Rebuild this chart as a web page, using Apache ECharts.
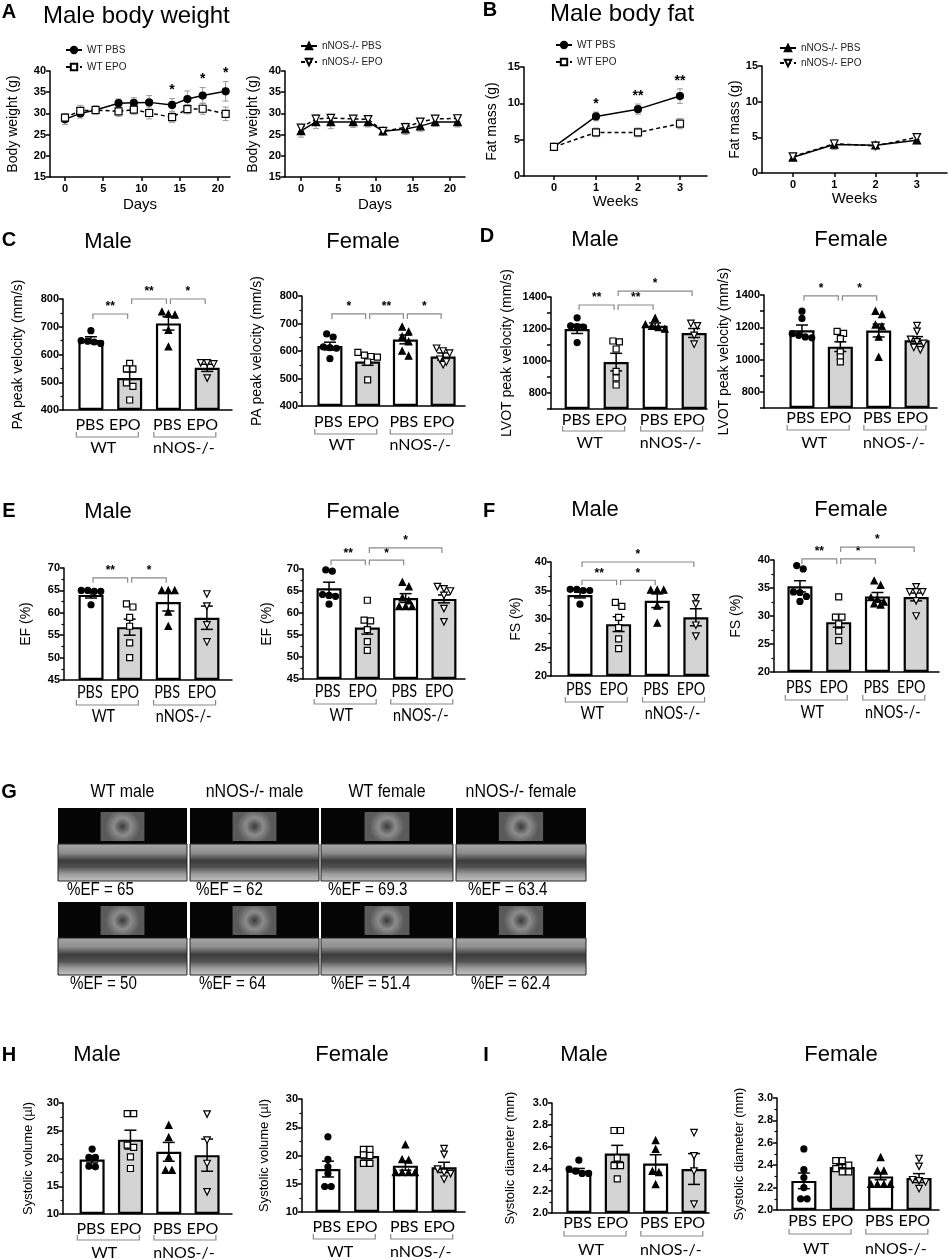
<!DOCTYPE html>
<html>
<head>
<meta charset="utf-8">
<script src="https://cdn.jsdelivr.net/npm/echarts@6/dist/echarts.min.js"></script>
<style>
  html, body { margin: 0; padding: 0; background: #fff; }
  #main { width: 948px; height: 1259px; }
</style>
</head>
<body>
<div id="main"></div>
<script>
const FONT = '"Liberation Sans", Arial, sans-serif';
const LABEL_FONT = 'Lato, "Liberation Sans", sans-serif';

// ---------- A: male body weight ----------
const days = [0, 2, 4, 7, 9, 11, 14, 16, 18, 21];
const dayTicks = [0, 5, 10, 15, 20];
const wtPbsWeight = [28.6, 30.0, 30.8, 32.4, 32.5, 32.6, 32.0, 33.4, 34.2, 35.2];
const wtPbsWeightErr = [1.2, 1.1, 1.0, 1.0, 1.2, 1.6, 1.5, 1.9, 1.9, 2.3];
const wtEpoWeight = [29.0, 30.6, 30.8, 30.5, 30.9, 30.1, 29.1, 31.0, 31.1, 29.9];
const wtEpoWeightErr = [0.9, 1.3, 1.0, 1.2, 1.1, 1.4, 1.2, 1.1, 1.3, 1.6];
const nnosPbsWeight = [25.9, 28.0, 28.0, 28.0, 28.0, 25.8, 26.3, 27.0, 28.0, 28.0];
const nnosPbsWeightErr = [1.5, 1.6, 1.6, 1.3, 1.2, 0.6, 1.3, 1.2, 1.0, 1.2];
const nnosEpoWeight = [26.6, 28.7, 28.9, 28.7, 28.6, 25.8, 26.7, 28.0, 28.7, 28.8];
const nnosEpoWeightErr = [0.8, 0.9, 0.9, 0.8, 0.7, 0.5, 1.0, 0.8, 0.7, 0.9];
const weightStarDays = [14, 18, 21];
const weightStarText = ['*', '*', '*'];

// ---------- B: male body fat ----------
const weeks = [0, 1, 2, 3];
const weekTicks = [0, 1, 2, 3];
const wtPbsFat = [4.0, 8.2, 9.2, 11.0];
const wtPbsFatErr = [0.4, 0.6, 0.7, 1.0];
const wtEpoFat = [4.0, 6.0, 6.0, 7.2];
const wtEpoFatErr = [0.3, 0.6, 0.6, 0.7];
const nnosPbsFat = [2.2, 4.0, 3.9, 4.6];
const nnosPbsFatErr = [0.3, 0.7, 0.5, 0.5];
const nnosEpoFat = [2.3, 4.1, 3.8, 5.0];
const nnosEpoFatErr = [0.2, 0.5, 0.4, 0.3];
const fatStarWeeks = [1, 2, 3];
const fatStarText = ['*', '**', '**'];

// ---------- bar panels: categories ----------
const treatments = ['PBS', 'EPO', 'PBS', 'EPO'];
const genotypes = ['WT', 'nNOS-/-'];

// C: PA peak velocity
const paMaleMean = [652, 515, 712, 552];
const paMaleSem = [12, 22, 24, 13];
const paMalePoints = [[686, 650, 648, 645, 640], [568, 548, 548, 498, 485, 436], [746, 754, 743, 688, 628], [570, 566, 570, 515]];
const paMaleSig = [[0, 1, 746, '**'], [1, 2, 800, '**'], [2, 3, 800, '*']];
const paFemaleMean = [618, 562, 642, 580];
const paFemaleSem = [14, 14, 16, 13];
const paFemalePoints = [[651, 662, 615, 612, 610, 572], [595, 585, 580, 578, 560, 495], [670, 688, 652, 634, 600, 582], [592, 610, 600, 570, 550, 560]];
const paFemaleSig = [[0, 1, 735, '*'], [1, 2, 735, '**'], [2, 3, 735, '*']];

// D: LVOT peak velocity
const lvotMaleMean = [1200, 993, 1220, 1175];
const lvotMaleSem = [28, 55, 18, 28];
const lvotMalePoints = [[1270, 1220, 1215, 1212, 1115], [1125, 1120, 1075, 935, 895, 850], [1268, 1228, 1218, 1210, 1200], [1235, 1220, 1160, 1105]];
const lvotMaleSig = [[0, 1, 1350, '**'], [1, 2, 1350, '**'], [1, 3, 1437, '*']];
const lvotFemaleMean = [1182, 1080, 1180, 1120];
const lvotFemaleSem = [32, 30, 40, 22];
const lvotFemalePoints = [[1300, 1255, 1160, 1150, 1140, 1135], [1162, 1130, 1175, 1048, 1017, 986], [1300, 1280, 1215, 1205, 1140, 1015], [1210, 1175, 1125, 1110, 1100, 1075, 1060]];
const lvotFemaleSig = [[0, 1, 1395, '*'], [1, 2, 1395, '*']];

// E: EF
const efMaleMean = [64.0, 56.8, 62.4, 58.9];
const efMaleSem = [0.7, 1.8, 2.0, 2.6];
const efMalePoints = [[65, 64.8, 64.8, 65, 61.8], [61.3, 62, 59, 57, 53.3, 50], [65, 65, 65, 60.2, 57], [64.2, 61.5, 57.3, 53.5]];
const efMaleSig = [[0, 1, 67.8, '**'], [1, 2, 67.8, '*']];
const efFemaleMean = [65.6, 56.7, 63.4, 63.2];
const efFemaleSem = [1.4, 1.5, 1.0, 0.9];
const efFemalePoints = [[69.8, 69.5, 64.2, 64.0, 63.8, 62.0], [62.9, 58.4, 58.2, 56.2, 53.5, 51.5], [67, 66, 63.5, 61.5, 61.5, 61.5, 62.8], [66, 65.5, 65, 64, 61, 58]];
const efFemaleSig = [[0, 1, 72, '**'], [1, 2, 72, '*'], [1, 3, 74.8, '*']];

// F: FS
const fsMaleMean = [34.2, 29.1, 33.2, 30.3];
const fsMaleSem = [0.5, 1.3, 1.2, 1.5];
const fsMalePoints = [[35.2, 35.0, 35.0, 35.2, 32.6], [32.9, 32.2, 30.3, 28.5, 26.5, 24.8], [35.1, 35.1, 35.1, 32.3, 29.3], [33.7, 32.6, 28.9, 27.0]];
const fsMaleSig = [[0, 1, 36.8, '**'], [1, 2, 36.8, '*'], [0, 3, 40, '*']];
const fsFemaleMean = [35.3, 28.9, 33.5, 33.4];
const fsFemaleSem = [1.0, 0.9, 0.7, 0.7];
const fsFemalePoints = [[38.4, 39.0, 34.3, 34.2, 33.5, 32.6], [33.4, 29.8, 29.8, 28.6, 27.3, 25.6], [36.3, 35.5, 33.3, 33.0, 32.2, 32.0, 32.5], [35.2, 34.3, 34.3, 34.3, 32.7, 30.0]];
const fsFemaleSig = [[0, 1, 40.2, '**'], [1, 2, 40.2, '*'], [1, 3, 42.3, '*']];

// H: systolic volume
const svMaleMean = [19.8, 23.4, 21.2, 20.6];
const svMaleSem = [0.6, 1.7, 1.7, 2.9];
const svMalePoints = [[21.7, 20.2, 20.2, 18.6, 18.5], [28.1, 28.1, 22.4, 22.0, 20.3, 18.2], [26.0, 23.8, 20.3, 17.9, 17.9], [28.0, 23.3, 19.1, 14.0]];
const svFemaleMean = [17.6, 19.9, 18.2, 17.9];
const svFemaleSem = [1.4, 0.5, 0.8, 0.9];
const svFemalePoints = [[23.3, 19.3, 18.0, 16.8, 14.5, 14.5], [21.1, 21.1, 20.1, 20.0, 18.6, 18.6], [21.9, 19.3, 19.2, 17.0, 17.0, 17.0, 17.0], [21.2, 20.2, 17.6, 17.0, 16.8, 15.8]];

// I: systolic diameter
const sdMaleMean = [2.385, 2.54, 2.45, 2.40];
const sdMaleSem = [0.02, 0.075, 0.08, 0.14];
const sdMalePoints = [[2.48, 2.40, 2.38, 2.36, 2.36], [2.75, 2.75, 2.50, 2.43, 2.43, 2.31], [2.66, 2.58, 2.38, 2.37, 2.26], [2.73, 2.52, 2.38, 2.08]];
const sdFemaleMean = [2.26, 2.385, 2.30, 2.285];
const sdFemaleSem = [0.07, 0.02, 0.03, 0.04];
const sdFemalePoints = [[2.545, 2.36, 2.29, 2.20, 2.10, 2.10], [2.44, 2.44, 2.40, 2.37, 2.34, 2.34], [2.47, 2.35, 2.35, 2.23, 2.23, 2.23, 2.23], [2.46, 2.39, 2.27, 2.26, 2.25, 2.19]];

// G: echo panels
const echoColumns = ['WT male', 'nNOS-/- male', 'WT female', 'nNOS-/- female'];
const efTopRow = ['65', '62', '69.3', '63.4'];
const efBottomRow = ['50', '64', '51.4', '62.4'];

// ---------- chart ----------
const chart = echarts.init(document.getElementById('main'));
const option = {
  animation: false,
  backgroundColor: '#fff',
  grid: [], xAxis: [], yAxis: [], series: [], legend: [],
  graphic: { elements: [] }
};

const AXIS_LINE = { color: '#000', width: 1.5 };
const GROUP_SYMBOLS = [
  { symbol: 'circle', size: 6, fill: '#000' },
  { symbol: 'rect', size: 6, fill: '#fff' },
  { symbol: 'triangle', size: 6.5, fill: '#000' },
  { symbol: 'path://M0,0L10,0L5,9Z', size: 6.5, fill: '#fff' }
];

function addGrid(p) {
  option.grid.push({ left: p.left, top: p.top, width: p.width, height: p.height, outerBoundsMode: 'none' });
  return option.grid.length - 1;
}

function yAxisFor(gi, p) {
  return {
    type: 'value', gridIndex: gi, min: p.yMin, max: p.yMax, interval: p.step, startValue: p.yMin,
    name: p.yName, nameLocation: 'middle', nameGap: p.nameGap,
    nameTextStyle: { fontSize: p.nameSize || 14, fontFamily: FONT, color: '#000' },
    axisLine: { show: true, onZero: false, lineStyle: AXIS_LINE },
    axisTick: { show: true, length: 4, lineStyle: AXIS_LINE },
    minorTick: { show: !!p.minor, splitNumber: p.minor || 2, length: 2.5, lineStyle: { color: '#000', width: 1.2 } },
    axisLabel: { fontSize: 11, fontWeight: 'bold', fontFamily: FONT, color: '#000', margin: 4,
      formatter: p.fmt || (v => String(v)) },
    splitLine: { show: false }
  };
}

function errorSeries(gi, xs, mean, err, color, cap, width) {
  return {
    type: 'custom', xAxisIndex: gi, yAxisIndex: gi, clip: false, silent: true, z: 3,
    data: mean.map((m, k) => [xs[k], m - err[k], m + err[k]]),
    renderItem(params, api) {
      const lo = api.coord([api.value(0), api.value(1)]);
      const hi = api.coord([api.value(0), api.value(2)]);
      const st = { stroke: color, lineWidth: width };
      return { type: 'group', children: [
        { type: 'line', shape: { x1: lo[0], y1: lo[1], x2: hi[0], y2: hi[1] }, style: st },
        { type: 'line', shape: { x1: hi[0] - cap, y1: hi[1], x2: hi[0] + cap, y2: hi[1] }, style: st },
        { type: 'line', shape: { x1: lo[0] - cap, y1: lo[1], x2: lo[0] + cap, y2: lo[1] }, style: st }
      ] };
    }
  };
}

// spread points that sit at almost the same height into a row
function swarmOffsets(vals, pxPerUnit, gap) {
  const idx = vals.map((v, i) => i).sort((a, b) => vals[b] - vals[a]);
  const offs = [];
  let cluster = [];
  const flush = () => {
    cluster.forEach((id, k) => { offs[id] = (k - (cluster.length - 1) / 2) * gap; });
    cluster = [];
  };
  idx.forEach(id => {
    if (cluster.length && (vals[cluster[0]] - vals[id]) * pxPerUnit > 5) flush();
    cluster.push(id);
  });
  flush();
  return offs;
}

function labelText(text, x, y, size, squeeze) {
  return { type: 'text', x: x, y: y, scaleX: squeeze,
    style: { text: text, font: size + 'px ' + LABEL_FONT, fill: '#000', textAlign: 'center', textVerticalAlign: 'middle',
      align: 'center', verticalAlign: 'middle' } };
}

function barPanel(p) {
  const gi = addGrid(p);
  const xs = [0, 1, 2, 3];
  option.xAxis.push({
    type: 'value', gridIndex: gi, min: p.xMin, max: p.xMax,
    axisLine: { show: true, onZero: false, lineStyle: AXIS_LINE },
    axisTick: { show: false }, axisLabel: { show: false }, splitLine: { show: false }
  });
  option.yAxis.push(yAxisFor(gi, p));

  option.series.push({
    type: 'bar', xAxisIndex: gi, yAxisIndex: gi, barWidth: 25, z: 2, clip: true, silent: true,
    data: p.mean.map((m, i) => ({ value: [i, m], itemStyle: { color: i % 2 ? '#d4d4d4' : '#fff' } })),
    itemStyle: { borderColor: '#000', borderWidth: 2.2 }
  });
  option.series.push(errorSeries(gi, xs, p.mean, p.sem, '#000', 6, 1.5));

  const pxPerY = p.height / (p.yMax - p.yMin);
  const pxPerX = p.width / (p.xMax - p.xMin);
  p.points.forEach((vals, i) => {
    const s = GROUP_SYMBOLS[i];
    const offs = swarmOffsets(vals, pxPerY, 6.5);
    option.series.push({
      type: 'scatter', xAxisIndex: gi, yAxisIndex: gi, z: 4, silent: true,
      symbol: s.symbol, symbolSize: s.size,
      itemStyle: { color: s.fill, borderColor: '#000', borderWidth: 1.2, opacity: 1 },
      data: vals.map((v, k) => [i + offs[k] / pxPerX, v])
    });
  });

  if (p.sig) {
    option.series.push({
      type: 'custom', xAxisIndex: gi, yAxisIndex: gi, clip: false, silent: true, z: 5,
      data: p.sig.map(s => [s[0], s[2], s[1]]),
      renderItem(params, api) {
        const a = api.coord([api.value(0), api.value(1)]);
        const b = api.coord([api.value(2), api.value(1)]);
        const x1 = a[0] + 2, x2 = b[0] - 2, y = a[1];
        return { type: 'group', children: [
          { type: 'polyline', shape: { points: [[x1, y + 5], [x1, y], [x2, y], [x2, y + 5]] },
            style: { stroke: '#8a8a8a', fill: null, lineWidth: 1.2 } },
          { type: 'text', style: { x: (x1 + x2) / 2, y: y - 1, text: p.sig[params.dataIndex][3],
            font: 'bold 12px ' + FONT, fill: '#000', textAlign: 'center', textVerticalAlign: 'bottom',
            align: 'center', verticalAlign: 'bottom' } }
        ] };
      }
    });
  }

  const off = p.labOff || [14, 26, 38];
  const size = p.labSize || 16;
  const squeeze = p.labSqueeze || 1;
  option.series.push({
    type: 'custom', xAxisIndex: gi, yAxisIndex: gi, clip: false, silent: true, z: 5,
    data: genotypes.map((g, k) => [2 * k, p.yMin, 2 * k + 1]),
    renderItem(params, api) {
      const k = params.dataIndex;
      const a = api.coord([api.value(0), api.value(1)]);
      const b = api.coord([api.value(2), api.value(1)]);
      const mid = (a[0] + b[0]) / 2 - 3;
      const y = a[1];
      return { type: 'group', children: [
        labelText(treatments[2 * k], mid - 17.5, y + off[0], size, squeeze),
        labelText(treatments[2 * k + 1], mid + 17.5, y + off[0], size, squeeze),
        { type: 'polyline', shape: { points: [[mid - 31, y + off[1] - 5], [mid - 31, y + off[1]], [mid + 31, y + off[1]], [mid + 31, y + off[1] - 5]] },
          style: { stroke: '#8a8a8a', fill: null, lineWidth: 1.2 } },
        labelText(genotypes[k], mid - (k === 0 ? 4 : 1), y + off[2], size, squeeze)
      ] };
    }
  });
}

function linePanel(p) {
  const gi = addGrid(p);
  option.xAxis.push({
    type: 'value', gridIndex: gi, min: p.xMin, max: p.xMax,
    name: p.xName, nameLocation: 'middle', nameGap: p.xNameGap,
    nameTextStyle: { fontSize: 15, fontFamily: FONT, color: '#000' },
    axisLine: { show: true, onZero: false, lineStyle: AXIS_LINE },
    axisTick: { show: true, customValues: p.ticks, length: 4, lineStyle: AXIS_LINE },
    axisLabel: { customValues: p.ticks, fontSize: 11, fontWeight: 'bold', fontFamily: FONT, color: '#000', margin: 6 },
    splitLine: { show: false }
  });
  option.yAxis.push(yAxisFor(gi, p));

  p.lines.forEach(l => {
    const s = GROUP_SYMBOLS[l.sym];
    option.series.push(errorSeries(gi, p.x, l.mean, l.err, '#9a9a9a', 3, 1));
    option.series.push({
      type: 'line', name: l.name, xAxisIndex: gi, yAxisIndex: gi, z: 4, silent: true,
      data: p.x.map((x, k) => [x, l.mean[k]]),
      symbol: s.symbol, symbolSize: s.size + 1, showAllSymbol: true,
      itemStyle: { color: s.fill, borderColor: '#000', borderWidth: 1.2 },
      lineStyle: { color: '#000', width: 1.5, type: l.dashed ? [4, 3] : 'solid' }
    });
  });

  if (p.stars) {
    const base = p.lines[0];
    option.series.push({
      type: 'custom', xAxisIndex: gi, yAxisIndex: gi, clip: false, silent: true, z: 5,
      data: p.stars.x.map(x => {
        const k = p.x.indexOf(x);
        return [x, base.mean[k] + base.err[k]];
      }),
      renderItem(params, api) {
        const c = api.coord([api.value(0), api.value(1)]);
        return { type: 'text', style: { x: c[0], y: c[1] - 1, text: p.stars.text[params.dataIndex],
          font: 'bold 14px ' + FONT, fill: '#000', textAlign: 'center', textVerticalAlign: 'bottom',
          align: 'center', verticalAlign: 'bottom' } };
      }
    });
  }

  option.legend.push({
    orient: 'vertical', left: p.legend.left, top: p.legend.top, itemGap: p.legend.gap,
    itemWidth: 16, itemHeight: 8, selectedMode: false,
    data: p.lines.map(l => l.name),
    textStyle: { fontSize: 10, fontFamily: FONT, color: '#222' }
  });
}

// ---------- A ----------
linePanel({
  left: 50, top: 71, width: 180, height: 106, xMin: -1.96, xMax: 21.57, ticks: dayTicks,
  yMin: 15, yMax: 40, step: 5, yName: 'Body weight (g)', nameGap: 30, xName: 'Days', xNameGap: 20,
  x: days,
  lines: [
    { name: 'WT PBS', mean: wtPbsWeight, err: wtPbsWeightErr, sym: 0, dashed: false },
    { name: 'WT EPO', mean: wtEpoWeight, err: wtEpoWeightErr, sym: 1, dashed: true }
  ],
  stars: { x: weightStarDays, text: weightStarText },
  legend: { left: 60, top: 40, gap: 7 }
});
linePanel({
  left: 285, top: 71, width: 180, height: 106, xMin: -2.15, xMax: 22.0, ticks: dayTicks,
  yMin: 15, yMax: 40, step: 5, yName: 'Body weight (g)', nameGap: 25, xName: 'Days', xNameGap: 20,
  x: days,
  lines: [
    { name: 'nNOS-/- PBS', mean: nnosPbsWeight, err: nnosPbsWeightErr, sym: 2, dashed: false },
    { name: 'nNOS-/- EPO', mean: nnosEpoWeight, err: nnosEpoWeightErr, sym: 3, dashed: true }
  ],
  legend: { left: 295, top: 36, gap: 6 }
});

// ---------- B ----------
linePanel({
  left: 524, top: 67, width: 183, height: 109, xMin: -0.714, xMax: 3.643, ticks: weekTicks,
  yMin: 0, yMax: 15, step: 5, yName: 'Fat mass (g)', nameGap: 25, xName: 'Weeks', xNameGap: 18,
  x: weeks,
  lines: [
    { name: 'WT PBS', mean: wtPbsFat, err: wtPbsFatErr, sym: 0, dashed: false },
    { name: 'WT EPO', mean: wtEpoFat, err: wtEpoFatErr, sym: 1, dashed: true }
  ],
  stars: { x: fatStarWeeks, text: fatStarText },
  legend: { left: 550, top: 35, gap: 7 }
});
linePanel({
  left: 762, top: 66, width: 185, height: 107, xMin: -0.75, xMax: 3.73, ticks: weekTicks,
  yMin: 0, yMax: 15, step: 5, yName: 'Fat mass (g)', nameGap: 19, xName: 'Weeks', xNameGap: 16,
  x: weeks,
  lines: [
    { name: 'nNOS-/- PBS', mean: nnosPbsFat, err: nnosPbsFatErr, sym: 2, dashed: false },
    { name: 'nNOS-/- EPO', mean: nnosEpoFat, err: nnosEpoFatErr, sym: 3, dashed: true }
  ],
  legend: { left: 774, top: 38, gap: 5 }
});

// ---------- C ----------
barPanel({ left: 63, top: 299, width: 169, height: 111, xMin: -0.72, xMax: 3.64,
  yMin: 400, yMax: 800, step: 100, minor: 2, yName: 'PA peak velocity (mm/s)', nameGap: 38,
  mean: paMaleMean, sem: paMaleSem, points: paMalePoints, sig: paMaleSig, labOff: [15, 27, 38] });
barPanel({ left: 302, top: 296, width: 163, height: 110, xMin: -0.74, xMax: 3.58,
  yMin: 400, yMax: 800, step: 100, minor: 2, yName: 'PA peak velocity (mm/s)', nameGap: 38,
  mean: paFemaleMean, sem: paFemaleSem, points: paFemalePoints, sig: paFemaleSig, labOff: [16, 28, 39] });

// ---------- D ----------
barPanel({ left: 551, top: 297, width: 156, height: 112, xMin: -0.67, xMax: 3.33,
  yMin: 700, yMax: 1400, step: 100, fmt: v => (v % 200 === 0 ? String(v) : ''),
  yName: 'LVOT peak velocity (mm/s)', nameGap: 37,
  mean: lvotMaleMean, sem: lvotMaleSem, points: lvotMalePoints, sig: lvotMaleSig, labOff: [11, 22, 34] });
barPanel({ left: 764, top: 295, width: 173, height: 113, xMin: -0.99, xMax: 3.52,
  yMin: 700, yMax: 1400, step: 100, fmt: v => (v % 200 === 0 ? String(v) : ''),
  yName: 'LVOT peak velocity (mm/s)', nameGap: 21,
  mean: lvotFemaleMean, sem: lvotFemaleSem, points: lvotFemalePoints, sig: lvotFemaleSig, labOff: [10, 22, 35] });

// ---------- E ----------
barPanel({ left: 64, top: 568, width: 168, height: 112, xMin: -0.7, xMax: 3.65,
  yMin: 45, yMax: 70, step: 5, minor: 2, yName: 'EF (%)', nameGap: 31,
  mean: efMaleMean, sem: efMaleSem, points: efMalePoints, sig: efMaleSig,
  labOff: [12, 25, 36], labSize: 18, labSqueeze: 0.8 });
barPanel({ left: 303, top: 569, width: 162, height: 110, xMin: -0.68, xMax: 3.55,
  yMin: 45, yMax: 70, step: 5, minor: 2, yName: 'EF (%)', nameGap: 29,
  mean: efFemaleMean, sem: efFemaleSem, points: efFemalePoints, sig: efFemaleSig,
  labOff: [12, 25, 36], labSize: 18, labSqueeze: 0.8 });

// ---------- F ----------
barPanel({ left: 551, top: 562, width: 158, height: 114, xMin: -0.75, xMax: 3.34,
  yMin: 20, yMax: 40, step: 5, minor: 2, yName: 'FS (%)', nameGap: 28,
  mean: fsMaleMean, sem: fsMaleSem, points: fsMalePoints, sig: fsMaleSig,
  labOff: [13, 26, 37], labSize: 18, labSqueeze: 0.8 });
barPanel({ left: 774, top: 560, width: 165, height: 112, xMin: -0.67, xMax: 3.59,
  yMin: 20, yMax: 40, step: 5, minor: 2, yName: 'FS (%)', nameGap: 31,
  mean: fsFemaleMean, sem: fsFemaleSem, points: fsFemalePoints, sig: fsFemaleSig,
  labOff: [15, 28, 40], labSize: 18, labSqueeze: 0.8 });

// ---------- H ----------
barPanel({ left: 63, top: 1103, width: 169, height: 111, xMin: -0.76, xMax: 3.65,
  yMin: 10, yMax: 30, step: 5, minor: 2, yName: 'Systolic volume (µl)', nameGap: 28, nameSize: 13,
  mean: svMaleMean, sem: svMaleSem, points: svMalePoints, labOff: [15, 26, 39] });
barPanel({ left: 302, top: 1099, width: 163, height: 113, xMin: -0.67, xMax: 3.54,
  yMin: 10, yMax: 30, step: 5, minor: 2, yName: 'Systolic volume (µl)', nameGap: 31, nameSize: 13,
  mean: svFemaleMean, sem: svFemaleSem, points: svFemalePoints, labOff: [15, 27, 40] });

// ---------- I ----------
barPanel({ left: 552, top: 1103, width: 157, height: 110, xMin: -0.7, xMax: 3.39,
  yMin: 2.0, yMax: 3.0, step: 0.2, minor: 2, fmt: v => v.toFixed(1),
  yName: 'Systolic diameter (mm)', nameGap: 35, nameSize: 13,
  mean: sdMaleMean, sem: sdMaleSem, points: sdMalePoints, labOff: [10, 23, 37] });
barPanel({ left: 777, top: 1098, width: 162, height: 112, xMin: -0.7, xMax: 3.52,
  yMin: 2.0, yMax: 3.0, step: 0.2, minor: 2, fmt: v => v.toFixed(1),
  yName: 'Systolic diameter (mm)', nameGap: 31, nameSize: 13,
  mean: sdFemaleMean, sem: sdFemaleSem, points: sdFemalePoints, labOff: [11, 24, 39] });

// ---------- texts ----------
const G = option.graphic.elements;
function addText(text, x, y, font, align, squeeze) {
  G.push({ type: 'text', x: x, y: y, scaleX: squeeze || 1, silent: true,
    style: { text: text, font: font, fill: '#000', textAlign: align || 'center', textVerticalAlign: 'middle',
      align: align || 'center', verticalAlign: 'middle' } });
}
[['A', 9, 12], ['B', 490, 10], ['C', 9, 240], ['D', 487, 236], ['E', 9, 511],
 ['F', 489, 511], ['G', 9, 792], ['H', 9, 1055], ['I', 486, 1055]]
  .forEach(l => addText(l[0], l[1], l[2], 'bold 20px ' + FONT));
addText('Male body weight', 43, 16, '24px ' + FONT, 'left');
addText('Male body fat', 550, 14, '24px ' + FONT, 'left');
[['Male', 108, 242], ['Female', 363, 242], ['Male', 595, 240], ['Female', 851, 240],
 ['Male', 108, 512], ['Female', 363, 512], ['Male', 595, 510], ['Female', 851, 510],
 ['Male', 97, 1055], ['Female', 352, 1055], ['Male', 584, 1055], ['Female', 841, 1055]]
  .forEach(t => addText(t[0], t[1], t[2], '22px ' + FONT));

// ---------- G: echo image placeholders ----------
const colX = [58, 190, 321, 456];
const colW = [129, 129, 132, 130];
const rowTop = [808, 902];
const efLabelX = [67, 196, 328, 468];
echoColumns.forEach((name, c) => {
  addText(name, colX[c] + colW[c] / 2, 792, '19px ' + FONT, 'center', 0.84);
  rowTop.forEach(top => {
    const x0 = colX[c], w = colW[c];
    G.push({ type: 'rect', silent: true, shape: { x: x0, y: top, width: w, height: 36 }, style: { fill: '#050505' } });
    G.push({ type: 'rect', silent: true, shape: { x: x0 + w * 0.33, y: top + 4, width: w * 0.34, height: 29 },
      style: { fill: { type: 'radial', x: 0.5, y: 0.5, r: 0.6,
        colorStops: [{ offset: 0, color: '#3a3a3a' }, { offset: 0.5, color: '#8c8c8c' }, { offset: 1, color: '#5a5a5a' }] } } });
    G.push({ type: 'rect', silent: true, shape: { x: x0, y: top + 36, width: w, height: 37 },
      style: { fill: { type: 'linear', x: 0, y: 0, x2: 0, y2: 1,
        colorStops: [{ offset: 0, color: '#a8a8a8' }, { offset: 0.25, color: '#8e8e8e' }, { offset: 0.45, color: '#3c3c3c' },
          { offset: 0.62, color: '#505050' }, { offset: 0.8, color: '#9a9a9a' }, { offset: 1, color: '#c4c4c4' }] },
        stroke: '#222', lineWidth: 1 } });
  });
  addText('%EF = ' + efTopRow[c], efLabelX[c], 890, '18px ' + FONT, 'left', 0.84);
  addText('%EF = ' + efBottomRow[c], efLabelX[c] + 3, 984, '18px ' + FONT, 'left', 0.84);
});

chart.setOption(option);
</script>
</body>
</html>
